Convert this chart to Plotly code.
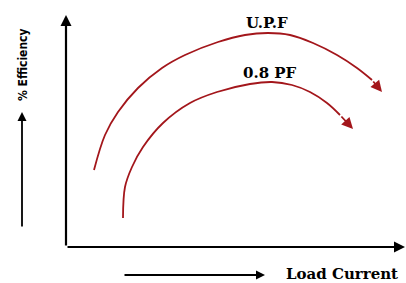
import plotly.graph_objects as go

# Curve data (load current vs efficiency, arbitrary units)
upf_x = [28, 39, 52, 72, 96, 119, 152, 179, 202, 224, 247, 271, 291, 306, 316]
upf_y = [77, 112, 135, 159, 179, 192, 205, 212, 214, 212, 204, 192, 179, 167, 155]
pf08_x = [57, 59, 66, 77, 97, 124, 151, 184, 206, 226, 244, 261, 274, 287]
pf08_y = [29, 60, 80, 100, 124, 144, 155, 163, 165, 162, 155, 144, 132, 118]

x_label = "Load Current"
y_label = "% Efficiency"
labels = ["U.P.F", "0.8 PF"]

RED = "#a3161b"
fig = go.Figure()
for xs, ys in [(upf_x, upf_y), (pf08_x, pf08_y)]:
    fig.add_trace(go.Scatter(x=xs[:-1], y=ys[:-1], mode="lines",
                             line=dict(color=RED, width=1.8, shape="spline", smoothing=1.0),
                             hoverinfo="skip", showlegend=False))

ann = []
# arrowheads on curves
for xs, ys in [(upf_x, upf_y), (pf08_x, pf08_y)]:
    ann.append(dict(x=xs[-1], y=ys[-1], ax=xs[-2], ay=ys[-2], xref="x", yref="y",
                    axref="x", ayref="y", text="", showarrow=True, arrowhead=2,
                    arrowsize=1.25, arrowwidth=1.8, arrowcolor=RED))
# axes with arrows
ann.append(dict(x=339, y=0, ax=0, ay=0, xref="x", yref="y", axref="x", ayref="y",
                text="", showarrow=True, arrowhead=2, arrowsize=1, arrowwidth=2.2,
                arrowcolor="black"))
ann.append(dict(x=0, y=232, ax=0, ay=0, xref="x", yref="y", axref="x", ayref="y",
                text="", showarrow=True, arrowhead=2, arrowsize=1, arrowwidth=2.2,
                arrowcolor="black"))
# curve labels
lab_font = dict(family="DejaVu Serif", size=15, color="black", weight="bold")
ann.append(dict(x=201, y=224, xref="x", yref="y", text=labels[0], showarrow=False,
                xanchor="center", yanchor="middle", font=lab_font))
ann.append(dict(x=204, y=174, xref="x", yref="y", text=labels[1], showarrow=False,
                xanchor="center", yanchor="middle", font=lab_font))
# outside arrows and axis titles
ann.append(dict(x=(22 - 66) / 340, y=(247 - 112) / 232, xref="paper", yref="paper",
                ax=0, ay=116, axref="pixel", ayref="pixel", text="", showarrow=True,
                arrowhead=2, arrowsize=1, arrowwidth=1.8, arrowcolor="black"))
ann.append(dict(x=(265 - 66) / 340, y=(247 - 275) / 232, xref="paper", yref="paper",
                ax=-142, ay=0, axref="pixel", ayref="pixel", text="", showarrow=True,
                arrowhead=2, arrowsize=1, arrowwidth=1.8, arrowcolor="black"))
ann.append(dict(x=(342 - 66) / 340, y=(247 - 274) / 232, xref="paper", yref="paper",
                text=x_label, showarrow=False, xanchor="center", yanchor="middle",
                font=dict(family="DejaVu Serif", size=15, color="black", weight="bold")))
ann.append(dict(x=(23 - 66) / 340, y=(247 - 65) / 232, xref="paper", yref="paper",
                text=y_label, showarrow=False, textangle=-90, xanchor="center",
                yanchor="middle",
                font=dict(family="DejaVu Sans Condensed, Liberation Sans Narrow, Liberation Sans",
                          size=12, color="black", weight="bold")))

fig.update_layout(
    width=406, height=283, margin=dict(l=66, r=0, t=15, b=36),
    paper_bgcolor="white", plot_bgcolor="white",
    xaxis=dict(range=[0, 340], visible=False, fixedrange=True),
    yaxis=dict(range=[0, 232], visible=False, fixedrange=True),
    annotations=ann,
)
fig.write_html("out.html", config={"displayModeBar": False},
               post_script="document.body.style.margin='0';")
